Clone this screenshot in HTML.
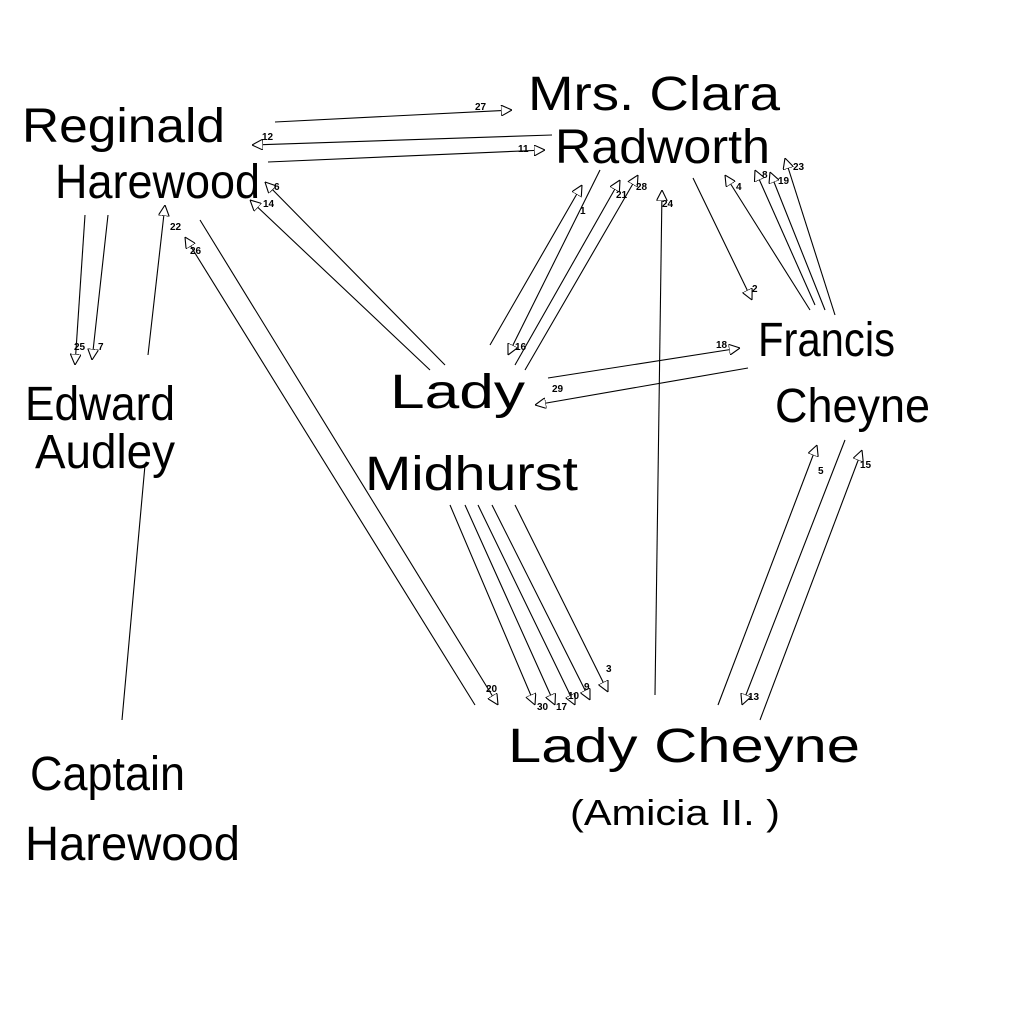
<!DOCTYPE html>
<html><head><meta charset="utf-8"><style>
html,body{margin:0;padding:0;background:#fff}
svg{display:block}
.n{font-family:"Liberation Sans",sans-serif;font-size:48px;fill:#000}
.l{font-family:"Liberation Sans",sans-serif;font-size:10px;fill:#000;font-weight:bold}
line{stroke:#000;stroke-width:1.1}
</style></head><body>
<svg width="1024" height="1024" viewBox="0 0 1024 1024" xmlns="http://www.w3.org/2000/svg">
<defs><marker id="a" viewBox="0 0 10 10" refX="10" refY="5" markerWidth="11" markerHeight="11" markerUnits="userSpaceOnUse" orient="auto"><path d="M0,0 L10,5 L0,10 Z" fill="#fff" stroke="#000" stroke-width="1"/></marker></defs>
<text class="n" x="22" y="142" textLength="203" lengthAdjust="spacingAndGlyphs">Reginald</text>
<text class="n" x="55" y="198" textLength="205" lengthAdjust="spacingAndGlyphs">Harewood</text>
<text class="n" x="528" y="110" textLength="252" lengthAdjust="spacingAndGlyphs">Mrs. Clara</text>
<text class="n" x="555" y="163" textLength="215" lengthAdjust="spacingAndGlyphs">Radworth</text>
<text class="n" x="25" y="420" textLength="150" lengthAdjust="spacingAndGlyphs">Edward</text>
<text class="n" x="35" y="468" textLength="140" lengthAdjust="spacingAndGlyphs">Audley</text>
<text class="n" x="390" y="408" textLength="135" lengthAdjust="spacingAndGlyphs">Lady</text>
<text class="n" x="365" y="490" textLength="213" lengthAdjust="spacingAndGlyphs">Midhurst</text>
<text class="n" x="758" y="356" textLength="137" lengthAdjust="spacingAndGlyphs">Francis</text>
<text class="n" x="775" y="422" textLength="155" lengthAdjust="spacingAndGlyphs">Cheyne</text>
<text class="n" x="508" y="762" textLength="352" lengthAdjust="spacingAndGlyphs">Lady  Cheyne</text>
<text class="n" x="570" y="825" style="font-size:36px" textLength="210" lengthAdjust="spacingAndGlyphs">(Amicia II.  )</text>
<text class="n" x="30" y="790" textLength="155" lengthAdjust="spacingAndGlyphs">Captain</text>
<text class="n" x="25" y="860" textLength="215" lengthAdjust="spacingAndGlyphs">Harewood</text>
<g marker-end="url(#a)">
<line x1="275" y1="122" x2="512" y2="110"/>
<line x1="552" y1="135" x2="252" y2="145"/>
<line x1="268" y1="162" x2="545" y2="150"/>
<line x1="445" y1="365" x2="265" y2="182"/>
<line x1="430" y1="370" x2="250" y2="200"/>
<line x1="148" y1="355" x2="165" y2="205"/>
<line x1="475" y1="705" x2="185" y2="237"/>
<line x1="85" y1="215" x2="75" y2="365"/>
<line x1="108" y1="215" x2="92" y2="360"/>
<line x1="490" y1="345" x2="582" y2="185"/>
<line x1="600" y1="170" x2="508" y2="355"/>
<line x1="515" y1="365" x2="620" y2="180"/>
<line x1="525" y1="370" x2="638" y2="175"/>
<line x1="655" y1="695" x2="662" y2="190"/>
<line x1="810" y1="310" x2="725" y2="175"/>
<line x1="815" y1="305" x2="755" y2="170"/>
<line x1="825" y1="310" x2="770" y2="172"/>
<line x1="835" y1="315" x2="785" y2="158"/>
<line x1="693" y1="178" x2="752" y2="300"/>
<line x1="548" y1="378" x2="740" y2="348"/>
<line x1="748" y1="368" x2="535" y2="405"/>
<line x1="718" y1="705" x2="817" y2="445"/>
<line x1="845" y1="440" x2="742" y2="705"/>
<line x1="760" y1="720" x2="862" y2="450"/>
<line x1="200" y1="220" x2="498" y2="705"/>
<line x1="450" y1="505" x2="535" y2="705"/>
<line x1="465" y1="505" x2="555" y2="705"/>
<line x1="478" y1="505" x2="575" y2="705"/>
<line x1="492" y1="505" x2="590" y2="700"/>
<line x1="515" y1="505" x2="608" y2="692"/>
</g>
<line x1="145" y1="465" x2="122" y2="720"/>
<text class="l" x="475" y="110">27</text>
<text class="l" x="262" y="140">12</text>
<text class="l" x="518" y="152">11</text>
<text class="l" x="274" y="190">6</text>
<text class="l" x="263" y="207">14</text>
<text class="l" x="170" y="230">22</text>
<text class="l" x="190" y="254">26</text>
<text class="l" x="74" y="350">25</text>
<text class="l" x="98" y="350">7</text>
<text class="l" x="580" y="214">1</text>
<text class="l" x="515" y="350">16</text>
<text class="l" x="616" y="198">21</text>
<text class="l" x="636" y="190">28</text>
<text class="l" x="662" y="207">24</text>
<text class="l" x="736" y="190">4</text>
<text class="l" x="762" y="178">8</text>
<text class="l" x="778" y="184">19</text>
<text class="l" x="793" y="170">23</text>
<text class="l" x="752" y="292">2</text>
<text class="l" x="716" y="348">18</text>
<text class="l" x="552" y="392">29</text>
<text class="l" x="818" y="474">5</text>
<text class="l" x="748" y="700">13</text>
<text class="l" x="860" y="468">15</text>
<text class="l" x="486" y="692">20</text>
<text class="l" x="537" y="710">30</text>
<text class="l" x="556" y="710">17</text>
<text class="l" x="568" y="699">10</text>
<text class="l" x="584" y="690">9</text>
<text class="l" x="606" y="672">3</text>
</svg>
</body></html>
